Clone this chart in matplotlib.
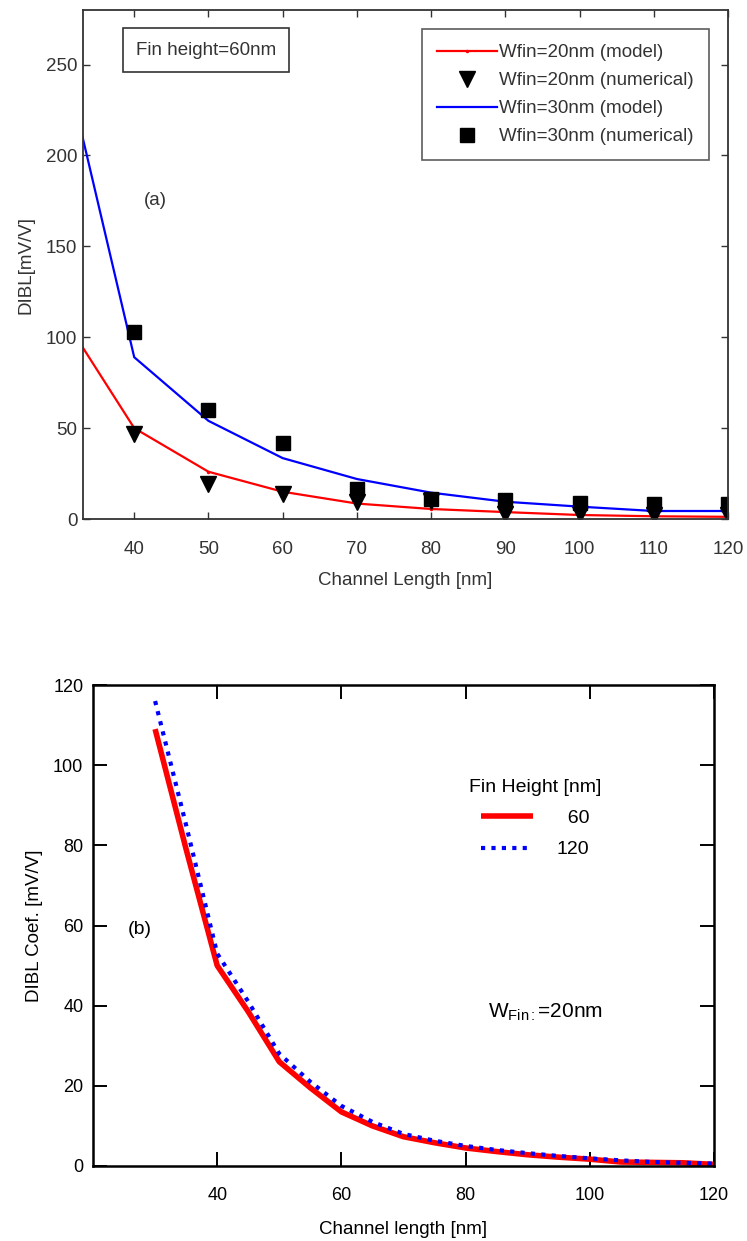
"""
DIBL vs channel length for FinFETs: (a) model vs numerical, (b) fin height comparison.
"""

import matplotlib
matplotlib.use('Agg')
import matplotlib.pyplot as plt

plt.rcParams['font.family'] = ['Liberation Sans', 'DejaVu Sans']
plt.rcParams['mathtext.fontset'] = 'custom'
plt.rcParams['mathtext.rm'] = 'Liberation Sans'
plt.rcParams['mathtext.it'] = 'Liberation Sans'

# ---- panel (a) data ----
L_model = [30, 40, 50, 60, 70, 80, 90, 100, 110, 120]
dibl_w20_model = [114, 50, 26, 15, 8.5, 5.5, 3.8, 2.2, 1.5, 1.2]
dibl_w30_model = [263, 89, 54, 33.5, 22, 14.5, 9.5, 6.8, 4.4, 4.4]

L_num = [40, 50, 60, 70, 80, 90, 100, 110, 120]
dibl_w20_num = [47, 19, 14, 9.5, 10, 3, 3, 2, 2]
dibl_w30_num = [103, 60, 42, 16.5, 11, 10.5, 9, 8, 8]

# ---- panel (b) data ----
L_b = [30, 35, 40, 45, 50, 55, 60, 65, 70, 75, 80, 85, 90, 95, 100, 105, 110, 115, 120]
dibl_h60 = [109, 79, 50, 38.5, 26, 19.5, 13.5, 10, 7.3, 5.8, 4.5, 3.6, 2.8, 2.2, 1.7, 1.0, 0.9, 0.8, 0.4]
dibl_h120 = [116, 85, 53, 41, 28, 21, 15, 11, 8, 6.3, 5, 4, 3.2, 2.5, 1.9, 1.4, 1.0, 0.8, 0.6]

W, H = 747, 1241
fig = plt.figure(figsize=(W / 100, H / 100), dpi=100)
fig.patch.set_facecolor('white')

grey = '#333333'

# ---------------- (a) ----------------
ax = fig.add_axes([83 / W, 1 - 519 / H, 645 / W, 509 / H])
ax.plot(L_model, dibl_w20_model, color='red', linewidth=1.6, marker='.', markersize=3,
        label='Wfin=20nm (model)')
ax.plot(L_num, dibl_w20_num, linestyle='none', marker='v', markersize=11, color='black',
        label='Wfin=20nm (numerical)')
ax.plot(L_model, dibl_w30_model, color='blue', linewidth=1.6, label='Wfin=30nm (model)')
ax.plot(L_num, dibl_w30_num, linestyle='none', marker='s', markersize=9.5, color='black',
        label='Wfin=30nm (numerical)')

ax.set_xlim(33.1, 120)
ax.set_ylim(0, 280)
ax.set_xticks(range(40, 121, 10))
ax.set_yticks(range(0, 251, 50))
ax.tick_params(direction='in', length=5, width=1, top=True, right=True,
               labelsize=13.5, colors=grey)
ax.tick_params(axis='x', pad=16)
ax.tick_params(axis='y', pad=4)
for s in ax.spines.values():
    s.set_color(grey)
    s.set_linewidth(1.3)
ax.set_xlabel('Channel Length [nm]', fontsize=13.5, color=grey, labelpad=10)
ax.set_ylabel('DIBL[mV/V]', fontsize=13.5, color=grey, labelpad=8)

leg = ax.legend(loc='upper right', bbox_to_anchor=(0.9705, 0.9627), borderaxespad=0,
                fontsize=13.5, handlelength=3.2, labelspacing=0.58, handletextpad=0.1,
                fancybox=False, edgecolor=grey, borderpad=0.8)
leg.get_frame().set_linewidth(1.2)
for t in leg.get_texts():
    t.set_color(grey)

ax.text(0.1907, 0.9214, 'Fin height=60nm', transform=ax.transAxes, fontsize=13.5,
        color=grey, ha='center', va='center',
        bbox=dict(boxstyle='square,pad=0.7', facecolor='white', edgecolor=grey, linewidth=1.2))
ax.text(42.8, 175, '(a)', fontsize=13.5, color=grey, ha='center', va='center')

# ---------------- (b) ----------------
bx = fig.add_axes([93 / W, 1 - 1166 / H, 621 / W, 481 / H])
bx.plot(L_b, dibl_h60, color='red', linewidth=4, solid_capstyle='butt', label='  60')
bx.plot(L_b, dibl_h120, color='blue', linewidth=3, linestyle=(0, (1, 1.5)),
        dash_capstyle='butt', label='120')

bx.set_xlim(20, 120)
bx.set_ylim(0, 120)
bx.set_xticks(range(40, 121, 20))
bx.set_yticks(range(0, 121, 20))
bx.tick_params(direction='in', length=10, width=1.4, top=True, right=True,
               labelsize=13, colors='black')
bx.tick_params(axis='x', pad=15)
bx.tick_params(axis='y', pad=7)
for s in bx.spines.values():
    s.set_color('black')
    s.set_linewidth(1.8)
bx.set_xlabel('Channel length [nm]', fontsize=13.5, labelpad=12)
bx.set_ylabel('DIBL Coef. [mV/V]', fontsize=13.5, labelpad=7)

leg2 = bx.legend(loc='center', bbox_to_anchor=(0.712, 0.722), frameon=False,
                 title='Fin Height [nm]', title_fontsize=14, fontsize=14,
                 handlelength=2.7, labelspacing=0.7, handletextpad=1.2)

bx.text(27.6, 58.9, '(b)', fontsize=14, ha='center', va='center')
bx.text(83.6, 38.4, r'W$_{\mathrm{Fin:}}$=20nm', fontsize=15, ha='left', va='center')

fig.savefig('out.png', dpi=100, facecolor='white')
